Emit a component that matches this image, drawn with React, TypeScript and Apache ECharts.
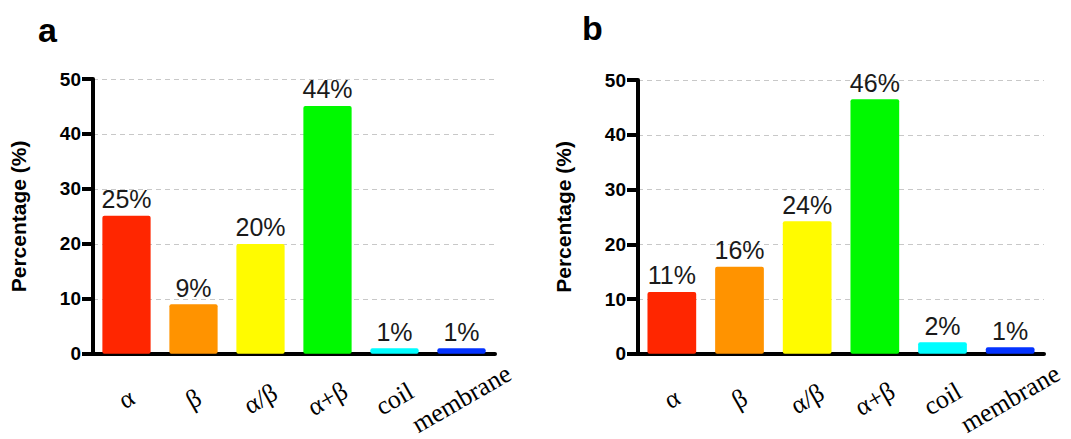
import React, { useEffect, useRef } from "react";
import * as echarts from "echarts";

const categories = ["α", "β", "α/β", "α+β", "coil", "membrane"];
const barColors = ["#FF2600", "#FF9300", "#FFFB00", "#00F900", "#00FDFF", "#0433FF"];
const valuesA = [25.1, 9.0, 20.0, 45.1, 1.0, 1.0];
const labelsA = ["25%", "9%", "20%", "44%", "1%", "1%"];
const valuesB = [11.3, 15.9, 24.2, 46.5, 2.1, 1.2];
const labelsB = ["11%", "16%", "24%", "46%", "2%", "1%"];
const panelLetters = ["a", "b"];
const yAxisName = "Percentage (%)";

const SANS = "'Liberation Sans', Arial, Helvetica, sans-serif";
const SERIF = "'Liberation Serif', 'Times New Roman', serif";

export default function App() {
  const ref = useRef<HTMLDivElement>(null);
  useEffect(() => {
    if (!ref.current) return;
    const chart = echarts.init(ref.current, null, { renderer: "svg" });
    const grids = [
      { left: 93, top: 79, width: 402, height: 276 },
      { left: 638, top: 80, width: 406, height: 276 },
    ];
    const xAxes = grids.map((_, i) => ({
      type: "category",
      gridIndex: i,
      data: categories,
      axisLine: { lineStyle: { color: "#000", width: 4 } },
      axisTick: { alignWithLabel: true, length: 11, lineStyle: { color: "#000", width: 4 } },
      axisLabel: {
        rotate: 30,
        align: "center",
        verticalAlign: "middle",
        margin: 45,
        fontFamily: SERIF,
        fontSize: 26,
        color: "#000",
        interval: 0,
      },
    }));
    const yAxes = grids.map((_, i) => ({
      type: "value",
      gridIndex: i,
      min: 0,
      max: 50,
      interval: 10,
      name: yAxisName,
      nameLocation: "middle",
      nameGap: 64,
      nameTextStyle: { fontFamily: SANS, fontSize: 21, fontWeight: "bold", color: "#000" },
      axisLine: { show: true, lineStyle: { color: "#000", width: 4 } },
      axisTick: { show: true, length: 11, lineStyle: { color: "#000", width: 4 } },
      axisLabel: { margin: 12, fontFamily: SANS, fontSize: 19, fontWeight: "bold", color: "#000" },
      splitLine: { show: true, lineStyle: { color: "#c8c8c8", type: [5, 4], width: 1 } },
    }));
    const makeSeries = (vals: number[], labels: string[], idx: number) => ({
      type: "bar",
      xAxisIndex: idx,
      yAxisIndex: idx,
      barCategoryGap: "28%",
      data: vals.map((v, j) => ({ value: v, itemStyle: { color: barColors[j], borderRadius: 2 } })),
      label: {
        show: true,
        position: "top",
        distance: 4,
        fontFamily: SANS,
        fontSize: 25,
        color: "#1a1a1a",
        formatter: (p: any) => labels[p.dataIndex],
      },
    });
    chart.setOption({
      animation: false,
      backgroundColor: "#fff",
      title: [
        { text: panelLetters[0], left: 33, top: 8, textStyle: { fontFamily: SANS, fontSize: 34, fontWeight: "bold", color: "#000" } },
        { text: panelLetters[1], left: 577, top: 6, textStyle: { fontFamily: SANS, fontSize: 34, fontWeight: "bold", color: "#000" } },
      ],
      grid: grids,
      xAxis: xAxes,
      yAxis: yAxes,
      series: [makeSeries(valuesA, labelsA, 0), makeSeries(valuesB, labelsB, 1)],
    });
    return () => chart.dispose();
  }, []);
  return (
    <div
      ref={ref}
      style={{ position: "fixed", left: 0, top: 0, width: 1071, height: 439, background: "#fff" }}
    />
  );
}
